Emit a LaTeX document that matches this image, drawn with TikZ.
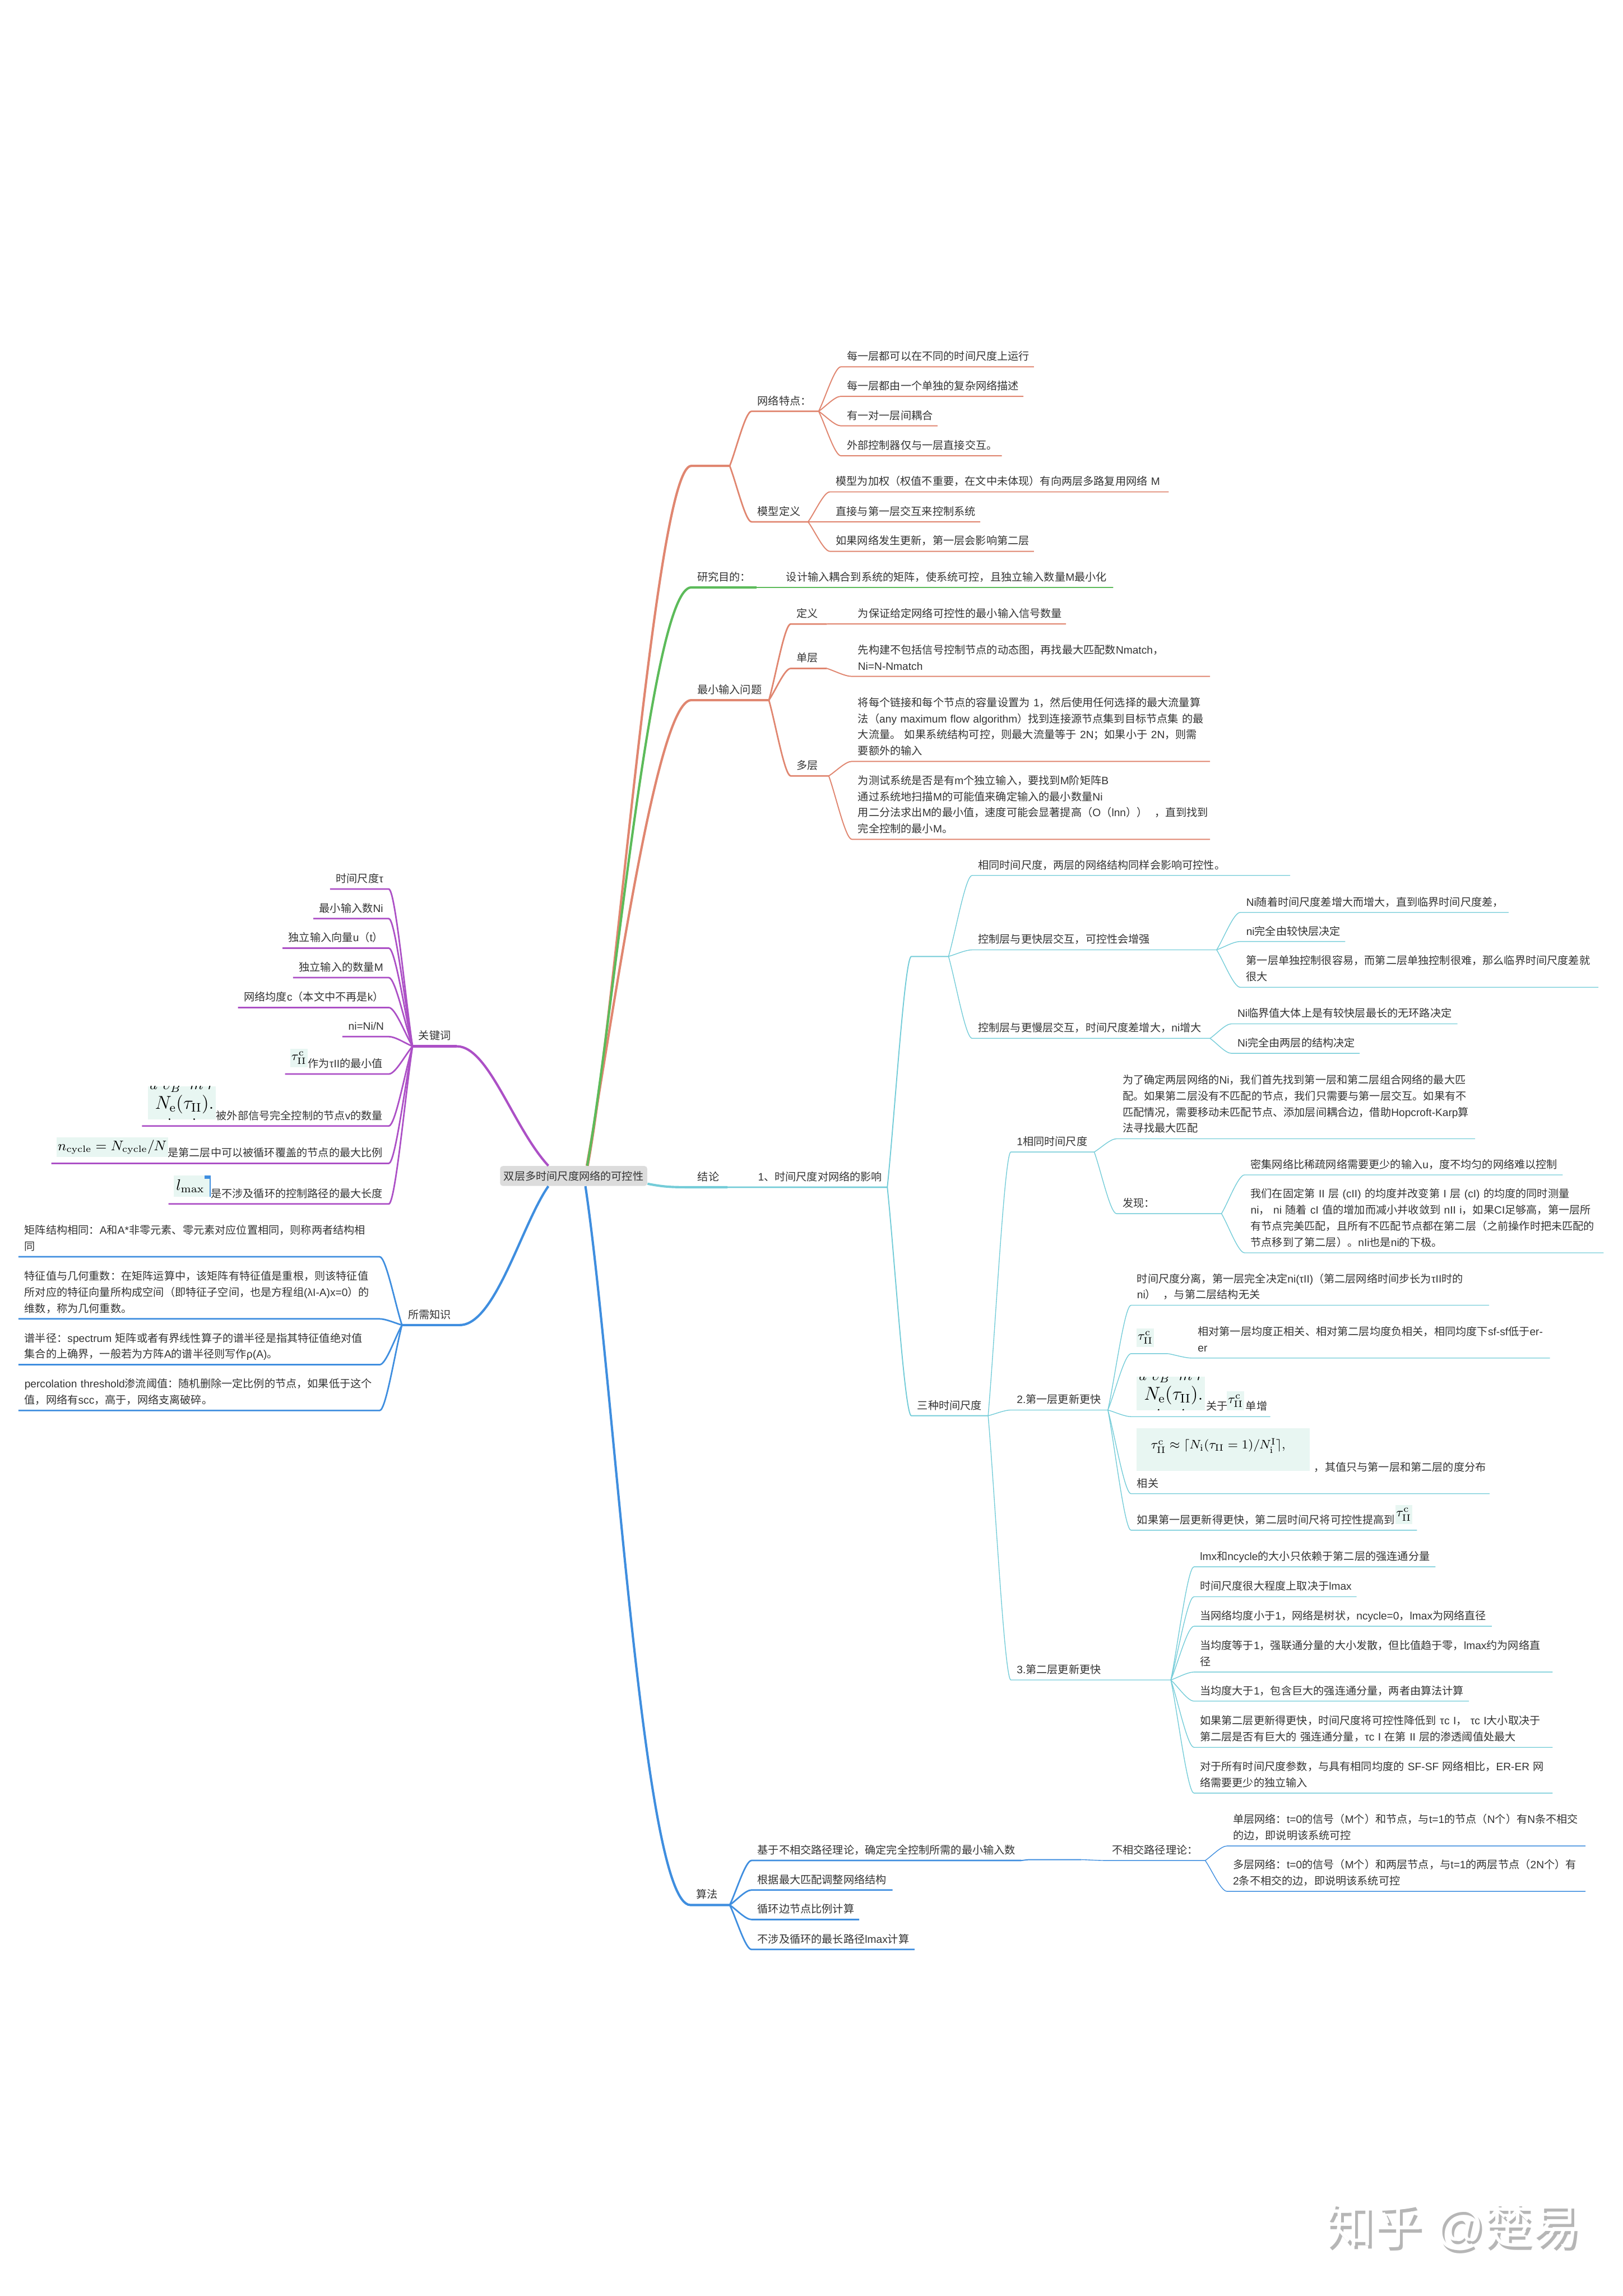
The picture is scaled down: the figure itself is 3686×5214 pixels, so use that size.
\documentclass[tikz,border=0pt]{standalone}
\usepackage{amsmath,amssymb}
\usepackage[no-math]{fontspec}
\setmainfont{Liberation Sans}
\newfontfamily\cjkfont{Noto Sans CJK SC}
% CJK runs switch to their own font
\XeTeXinterchartokenstate=1
\newXeTeXintercharclass\cjkclass
\count255="2E80
\loop \XeTeXcharclass\count255=\cjkclass \ifnum\count255<"9FFF \advance\count255 by 1 \repeat
\count255="FF00
\loop \XeTeXcharclass\count255=\cjkclass \ifnum\count255<"FFEF \advance\count255 by 1 \repeat
\XeTeXinterchartoks 0 \cjkclass={\begingroup\cjkfont}
\XeTeXinterchartoks 4095 \cjkclass={\begingroup\cjkfont}
\XeTeXinterchartoks \cjkclass 0={\endgroup}
\XeTeXinterchartoks \cjkclass 4095={\endgroup}
\usetikzlibrary{calc}
\definecolor{ink}{HTML}{333333}
\definecolor{coral}{HTML}{E08670}
\definecolor{grass}{HTML}{5CBB5A}
\definecolor{aqua}{HTML}{74CCD8}
\definecolor{azure}{HTML}{3F8EDF}
\definecolor{orchid}{HTML}{AC50C6}
\definecolor{mint}{HTML}{E8F6F2}
\definecolor{rootgray}{HTML}{DCDCDC}
\definecolor{markgray}{HTML}{B6B6B6}
\tikzset{
  leaf/.style={anchor=south west,text width={(#1-26)*0.01cm},align=left,inner xsep=0.13cm,
    inner ysep=0.03cm,text=ink,font=\fontsize{6.94}{10.44}\selectfont,execute at end node=\strut},
  leafr/.style={leaf=#1,anchor=south east,align=right},
  mathbox/.style={fill=mint,inner sep=0pt,text=black},
  taubox/.style={mathbox,minimum width=0.39cm,minimum height=0.42cm,font=\footnotesize},
  nebox/.style={mathbox,minimum width=1.55cm,minimum height=0.76cm,path picture={
      \node[font=\large,text=black] (neMain) at ($(path picture bounding box.center)+(6,4)$) {$N_{\mathrm{e}}(\tau_{\mathrm{II}}).$};
      \node[text=black] (neTop) at ($(path picture bounding box.north)+(0,3)$) {$u\;\upsilon_B\;\;m\;r$};
      \fill[black] ($(path picture bounding box.south)+(-28,-1)$) circle (2);
      \fill[black] ($(path picture bounding box.south)+(28,-1)$) circle (2);
    }},
  branch/.style={to path={.. controls ($(\tikztostart)!0.3!(\tikztotarget)$) and
      ($(\tikztostart|-\tikztotarget)!0.72!(\tikztotarget)$) .. (\tikztotarget)}},
  linkA/.style={line width=1.5pt},
  linkB/.style={line width=1pt},
  linkC/.style={line width=0.7pt},
  linkD/.style={line width=0.5pt},
}
\newcommand{\taucrit}{$\tau^{\mathrm{c}}_{\mathrm{II}}$}
\newcommand{\wmark}{知乎 @楚易}
\begin{document}
\begin{tikzpicture}[x=0.01cm,y=-0.01cm]
  \useasboundingbox (0,0) rectangle (3686,5214);
  \node[fill=rootgray,rounded corners=0.06cm,minimum width=3.34cm,minimum height=0.45cm,inner sep=0pt,text=ink,
    font=\fontsize{6.94}{10.44}\selectfont] (root) at (1303,2670.5) {双层多时间尺度网络的可控性};

  % upper right
  \node[leaf=86] (blankTop) at (1570,1058) {};
  \node[leaf=151] (netFeat) at (1707,934) {网络特点：};
  \node[leaf=437] (netA) at (1910,833) {每一层都可以在不同的时间尺度上运行};
  \node[leaf=413] (netB) at (1910,900) {每一层都由一个单独的复杂网络描述};
  \node[leaf=218] (netC) at (1910,967) {有一对一层间耦合};
  \node[leaf=364] (netD) at (1910,1035) {外部控制器仅与一层直接交互。};
  \node[leaf=127] (modelDef) at (1707,1185) {模型定义};
  \node[leaf=768] (modA) at (1885,1117) {模型为加权（权值不重要，在文中未体现）有向两层多路复用网络 M};
  \node[leaf=340] (modB) at (1885,1185) {直接与第一层交互来控制系统};
  \node[leaf=462] (modC) at (1885,1252) {如果网络发生更新，第一层会影响第二层};
  \node[leaf=147] (aim) at (1570,1334) {研究目的：};
  \node[leaf=755] (aimText) at (1772,1334) {设计输入耦合到系统的矩阵，使系统可控，且独立输入数量M最小化};
  \node[leaf=175] (minInput) at (1570,1590) {最小输入问题};
  \node[leaf=81] (defn) at (1796,1417) {定义};
  \node[leaf=485] (defnText) at (1935,1417) {为保证给定网络可控性的最小输入信号数量};
  \node[leaf=81] (single) at (1796,1518) {单层};
  \node[leaf=812] (singleText) at (1935,1536) {先构建不包括信号控制节点的动态图，再找最大匹配数Nmatch，\\Ni=N-Nmatch};
  \node[leaf=85] (multi) at (1796,1762) {多层};
  \node[leaf=812] (multiA) at (1935,1729) {将每个链接和每个节点的容量设置为 1，然后使用任何选择的最大流量算\\法（any~maximum~flow~algorithm）找到连接源节点集到目标节点集~的最\\大流量。~如果系统结构可控，则最大流量等于~2N；如果小于~2N，则需\\要额外的输入};
  \node[leaf=812] (multiB) at (1935,1906) {为测试系统是否是有m个独立输入，要找到M阶矩阵B\\通过系统地扫描M的可能值来确定输入的最小数量Ni\\用二分法求出M的最小值，速度可能会显著提高（O（lnn））~~，直到找到\\完全控制的最小M。};

  \draw[coral,linkA] (root.36) .. controls (1400,2300) and (1490,1058) .. (blankTop.south west) -- (blankTop.south east);
  \draw[coral,linkA] (root.38) .. controls (1390,2330) and (1490,1590) .. (minInput.south west) -- (minInput.south east);
  \draw[grass,linkA] (root.37) .. controls (1395,2300) and (1480,1334) .. (aim.south west) -- (aim.south east);
  \foreach \a/\b in {blankTop/netFeat,blankTop/modelDef,minInput/defn,minInput/single,minInput/multi}
    \draw[coral,linkB] (\a.south east) to[branch] (\b.south west) -- (\b.south east);
  \foreach \a/\b in {netFeat/netA,netFeat/netB,netFeat/netC,netFeat/netD,modelDef/modA,modelDef/modB,modelDef/modC,
    defn/defnText,single/singleText,multi/multiA,multi/multiB}
    \draw[coral,linkC] (\a.south east) to[branch] (\b.south west) -- (\b.south east);
  \draw[grass,linkC] (aim.south east) to[branch] (aimText.south west) -- (aimText.south east);

  % conclusions
  \node[leaf=80] (concl) at (1571,2696) {结论};
  \node[leaf=306] (effect) at (1708,2696) {1、时间尺度对网络的影响};
  \node[leaf=83] (blankTime) at (2070,2172) {};
  \node[leaf=721] (same) at (2208,1988) {相同时间尺度，两层的网络结构同样会影响可控性。};
  \node[leaf=554] (fast) at (2208,2157) {控制层与更快层交互，可控性会增强};
  \node[leaf=608] (fastA) at (2817,2072) {Ni随着时间尺度差增大而增大，直到临界时间尺度差，};
  \node[leaf=237] (fastB) at (2817,2138) {ni完全由较快层决定};
  \node[leaf=812] (fastC) at (2817,2242) {第一层单独控制很容易，而第二层单独控制很难，那么临界时间尺度差就\\很大};
  \node[leaf=539] (slow) at (2208,2358) {控制层与更慢层交互，时间尺度差增大，ni增大};
  \node[leaf=512] (slowA) at (2797,2325) {Ni临界值大体上是有较快层最长的无环路决定};
  \node[leaf=290] (slowB) at (2797,2392) {Ni完全由两层的结构决定};
  \node[leaf=173] (three) at (2070,3215) {三种时间尺度};
  \node[leaf=188] (tOne) at (2296,2616) {1相同时间尺度};
  \node[leaf=813] (tOneA) at (2536,2586) {为了确定两层网络的Ni，我们首先找到第一层和第二层组合网络的最大匹\\配。如果第二层没有不匹配的节点，我们只需要与第一层交互。如果有不\\匹配情况，需要移动未匹配节点、添加层间耦合边，借助\mbox{Hopcroft-Karp}算\\法寻找最大匹配};
  \node[leaf=237] (tOneB) at (2536,2756) {发现：};
  \node[leaf=721] (tOneBa) at (2827,2668) {密集网络比稀疏网络需要更少的输入u，度不均匀的网络难以控制};
  \node[leaf=814] (tOneBb) at (2827,2845) {我们在固定第~II~层~(cII)~的均度并改变第~I~层~(cI)~的均度的同时测量\\ni，~ni~随着~cI~值的增加而减小并收敛到~nII~i，如果CI足够高，第一层所\\有节点完美匹配，且所有不匹配节点都在第二层（之前操作时把未匹配的\\节点移到了第二层）。nIi也是ni的下极。};
  \node[leaf=219] (tTwo) at (2296,3202) {2.第一层更新更快};
  \node[leaf=812] (tTwoA) at (2569,2964) {时间尺度分离，第一层完全决定ni(τII)（第二层网络时间步长为τII时的\\ni）~~，与第二层结构无关};
  \node[leaf=83] (tTwoB) at (2569,3074) {};
  \node[taubox] (tauRel) at (2601.5,3038) {\taucrit};
  \node[leaf=812] (tTwoBa) at (2707,3084) {相对第一层均度正相关、相对第二层均度负相关，相同均度下sf-sf低于er-\\er};
  \node[nebox] (neRel) at (2659.5,3164.5) {};
  \node[taubox,minimum height=0.43cm] (tauMono) at (2806.5,3181.5) {\taucrit};
  \node[leaf=315] (tTwoC) at (2569,3217) {\hspace*{1.57cm}关于\hspace*{0.41cm}单增};
  \node[mathbox,minimum width=3.93cm,minimum height=0.97cm] (ceilBox) at (2778.5,3291.5) {};
  \node[text=black,inner sep=0pt,font=\footnotesize] (ceilExpr) at (2767,3283) {$\tau^{\mathrm{c}}_{\mathrm{II}}\approx\lceil N_{\mathrm{i}}(\tau_{\mathrm{II}}=1)/N^{\mathrm{I}}_{\mathrm{i}}\rceil,$};
  \node[leaf=813] (tTwoD) at (2569,3392) {\hspace*{4.02cm}，其值只与第一层和第二层的度分布\\相关};
  \node[leaf=648] (tTwoE) at (2569,3475) {如果第一层更新得更快，第二层时间尺将可控性提高到};
  \node[taubox,minimum height=0.43cm] (tauMax) at (3188.5,3439.5) {\taucrit};
  \node[leaf=362] (tThree) at (2296,3815) {3.第二层更新更快};
  \node[leaf=547] (tThreeA) at (2712,3558) {lmx和ncycle的大小只依赖于第二层的强连通分量};
  \node[leaf=368] (tThreeB) at (2712,3626) {时间尺度很大程度上取决于lmax};
  \node[leaf=675] (tThreeC) at (2712,3693) {当网络均度小于1，网络是树状，ncycle=0，lmax为网络直径};
  \node[leaf=813] (tThreeD) at (2712,3797) {当均度等于1，强联通分量的大小发散，但比值趋于零，lmax约为网络直\\径};
  \node[leaf=623] (tThreeE) at (2712,3863) {当均度大于1，包含巨大的强连通分量，两者由算法计算};
  \node[leaf=813] (tThreeF) at (2712,3968) {如果第二层更新得更快，时间尺度将可控性降低到~τc~I，~τc~I大小取决于\\第二层是否有巨大的~强连通分量，τc~I~在第~II~层的渗透阈值处最大};
  \node[leaf=813] (tThreeG) at (2712,4072) {对于所有时间尺度参数，与具有相同均度的~SF-SF~网络相比，ER-ER~网\\络需要更少的独立输入};

  \draw[aqua,linkA] (root.-6) .. controls (1510,2696) and (1530,2696) .. (concl.south west) -- (concl.south east);
  \draw[aqua,linkB] (concl.south east) to[branch] (effect.south west) -- (effect.south east);
  \foreach \b in {blankTime,three}
    \draw[aqua,linkC] (effect.south east) to[branch] (\b.south west) -- (\b.south east);
  \foreach \a/\b in {blankTime/same,blankTime/fast,blankTime/slow,three/tOne,three/tTwo,three/tThree}
    \draw[aqua,linkD] (\a.south east) to[branch] (\b.south west) -- (\b.south east);
  \foreach \a/\b in {fast/fastA,fast/fastB,fast/fastC,slow/slowA,slow/slowB,tOne/tOneA,tOne/tOneB,tOneB/tOneBa,tOneB/tOneBb,
    tTwo/tTwoA,tTwo/tTwoB,tTwoB/tTwoBa,tTwo/tTwoC,tTwo/tTwoD,tTwo/tTwoE,
    tThree/tThreeA,tThree/tThreeB,tThree/tThreeC,tThree/tThreeD,tThree/tThreeE,tThree/tThreeF,tThree/tThreeG}
    \draw[aqua,linkD] (\a.south east) to[branch] (\b.south west) -- (\b.south east);

  % algorithm
  \node[leaf=88] (algo) at (1568,4326) {算法};
  \node[leaf=611] (algoA) at (1707,4225) {基于不相交路径理论，确定完全控制所需的最小输入数};
  \node[leaf=115] (blankAlgo) at (2340,4223) {};
  \node[leaf=224] (paths) at (2512,4225) {不相交路径理论：};
  \node[leaf=813] (pathA) at (2787,4192) {单层网络：t=0的信号（M个）和节点，与t=1的节点（N个）有N条不相交\\的边，即说明该系统可控};
  \node[leaf=813] (pathB) at (2787,4295) {多层网络：t=0的信号（M个）和两层节点，与t=1的两层节点（2N个）有\\2条不相交的边，即说明该系统可控};
  \node[leaf=319] (algoB) at (1707,4292) {根据最大匹配调整网络结构};
  \node[leaf=243] (algoC) at (1707,4359) {循环边节点比例计算};
  \node[leaf=369] (algoD) at (1707,4427) {不涉及循环的最长路径lmax计算};
  \draw[azure,linkA] (root.-41) .. controls (1395,3130) and (1460,4326) .. (algo.south west) -- (algo.south east);
  \foreach \b in {algoA,algoB,algoC,algoD}
    \draw[azure,linkB] (algo.south east) to[branch] (\b.south west) -- (\b.south east);
  \draw[azure,linkC] (algoA.south east) to[branch] (blankAlgo.south west) -- (blankAlgo.south east);
  \draw[azure,linkD] (blankAlgo.south east) to[branch] (paths.south west) -- (paths.south east);
  \foreach \b in {pathA,pathB}
    \draw[azure,linkD] (paths.south east) to[branch] (\b.south west) -- (\b.south east);

  % keywords
  \node[leaf=99] (keys) at (937,2376) {关键词};
  \node[leafr=132] (keyA) at (883,2019) {时间尺度τ};
  \node[leafr=170] (keyB) at (883,2086) {最小输入数Ni};
  \node[leafr=240] (keyC) at (883,2153) {独立输入向量u（t）};
  \node[leafr=216] (keyD) at (883,2220) {独立输入的数量M};
  \node[leafr=341] (keyE) at (883,2288) {网络均度c（本文中不再是k）};
  \node[leafr=104] (keyF) at (883,2354) {ni=Ni/N};
  \node[leafr=234] (keyG) at (883,2439) {作为τII的最小值};
  \node[taubox,minimum width=0.40cm] (tauKey) at (679,2403) {\taucrit};
  \node[leafr=559] (keyH) at (883,2557) {被外部信号完全控制的节点v的数量};
  \node[nebox] (neKey) at (413,2504.5) {};
  \node[leafr=765] (keyI) at (883,2642) {是第二层中可以被循环覆盖的节点的最大比例};
  \node[mathbox,minimum width=2.53cm,minimum height=0.45cm,font=\small] (cycKey) at (255,2605) {$n_{\mathrm{cycle}}=N_{\mathrm{cycle}}/N$};
  \node[leafr=499] (keyJ) at (883,2734) {是不涉及循环的控制路径的最大长度};
  \node[mathbox,minimum width=0.84cm,minimum height=0.49cm,path picture={
      \node[anchor=east,text=black] (lmaxExpr) at ($(path picture bounding box.east)+(-14,0)$) {$e\;\;l_{\mathrm{max}}$};
      \fill[azure] ($(path picture bounding box.north east)+(-14,0)$) rectangle ($(path picture bounding box.north east)+(0,8)$);
      \fill[azure] ($(path picture bounding box.north east)+(-3,0)$) rectangle (path picture bounding box.south east);
    }] (lmaxKey) at (437,2693.5) {};
  \draw[orchid,linkA] (keys.south east) .. controls (1110,2376) and (1165,2560) .. (root.158);
  \draw[orchid,linkA] (keys.south west) -- (keys.south east);
  \foreach \b in {keyA,keyB,keyC,keyD,keyE,keyF,keyG,keyH,keyI,keyJ}
    \draw[orchid,linkB] (keys.south west) to[branch] (\b.south east) -- (\b.south west);

  % required knowledge
  \node[leaf=130] (know) at (913,3009) {所需知识};
  \node[leaf=819] (knowA) at (42,2854) {矩阵结构相同：A和A*非零元素、零元素对应位置相同，则称两者结构相\\同};
  \node[leaf=819] (knowB) at (42,2995) {特征值与几何重数：在矩阵运算中，该矩阵有特征值是重根，则该特征值\\所对应的特征向量所构成空间（即特征子空间，也是方程组(λI-A)x=0）的\\维数，称为几何重数。};
  \node[leaf=819] (knowC) at (42,3099) {谱半径：spectrum~矩阵或者有界线性算子的谱半径是指其特征值绝对值\\集合的上确界，一般若为方阵A的谱半径则写作ρ(A)。};
  \node[leaf=819] (knowD) at (42,3203) {percolation~threshold渗流阈值：随机删除一定比例的节点，如果低于这个\\值，网络有scc，高于，网络支离破碎。};
  \draw[azure,linkA] (root.-158) .. controls (1185,2780) and (1125,3009) .. (know.south east) -- (know.south west);
  \foreach \b in {knowA,knowB,knowC,knowD}
    \draw[azure,linkB] (know.south west) to[branch] (\b.south east) -- (\b.south west);

  % watermark
  \node[anchor=west,inner sep=0pt,text=markgray,font=\fontsize{31}{31}\selectfont] (markShade) at (3017,5064) {\wmark};
  \node[anchor=west,inner sep=0pt,text=white,font=\fontsize{31}{31}\selectfont] (markFace) at (3011,5056) {\wmark};
\end{tikzpicture}
\end{document}
